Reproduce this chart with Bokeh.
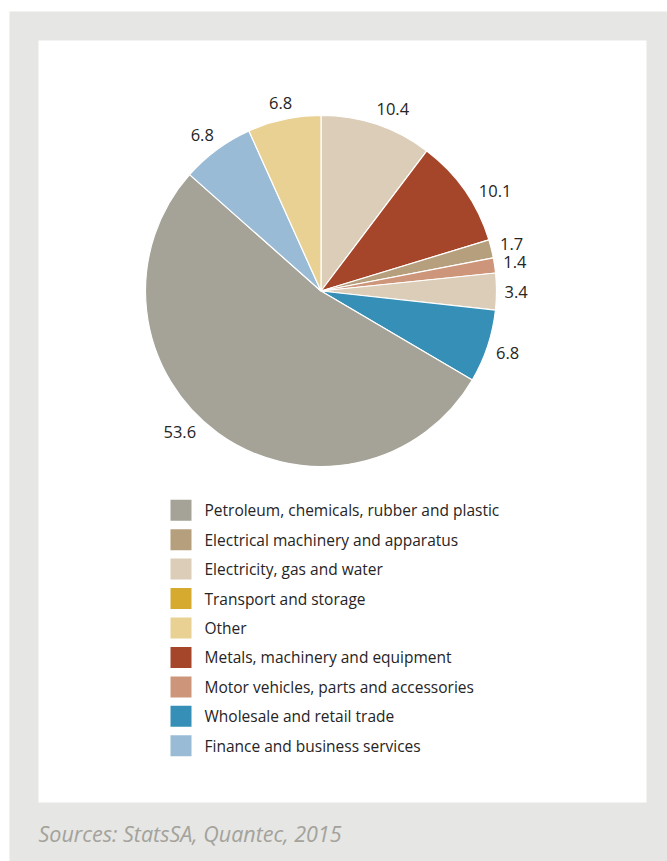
import math
from bokeh.plotting import figure
from bokeh.models import Range1d, BoxAnnotation, ColumnDataSource, Label
from bokeh.core.properties import value
from bokeh.embed import file_html
from bokeh.resources import INLINE

# ---------------- data ----------------
categories = [
    "Petroleum, chemicals, rubber and plastic",
    "Electrical machinery and apparatus",
    "Electricity, gas and water",
    "Transport and storage",
    "Other",
    "Metals, machinery and equipment",
    "Motor vehicles, parts and accessories",
    "Wholesale and retail trade",
    "Finance and business services",
]
category_colors = [
    "#A5A397",
    "#B59F7D",
    "#DBCDB7",
    "#D6A92F",
    "#E8D193",
    "#A5462A",
    "#CD957A",
    "#368FB6",
    "#9ABBD6",
]

# slices, clockwise from 12 o'clock, as drawn
slice_categories = [
    "Electricity, gas and water",
    "Metals, machinery and equipment",
    "Electrical machinery and apparatus",
    "Motor vehicles, parts and accessories",
    "Electricity, gas and water",
    "Wholesale and retail trade",
    "Petroleum, chemicals, rubber and plastic",
    "Finance and business services",
    "Other",
]
slice_values = [10.4, 10.1, 1.7, 1.4, 3.4, 6.8, 53.6, 6.8, 6.8]
slice_labels = ["10.4", "10.1", "1.7", "1.4", "3.4", "6.8", "53.6", "6.8", "6.8"]

source_text = "Sources: StatsSA, Quantec, 2015"

# ---------------- layout / style (screen px) ----------------
W, H = 667, 861
def Y(sy):
    return H - sy

CX, CY, R = 320.5, Y(290.5), 175.5
FONT = "Open Sans"
TEXT_COLOR = "#262424"
# small clockwise shifts (degrees) of some value labels, as placed in the original
label_shift_deg = [3, 5, 0, 0, 0, 0, 9, -1, 0]

p = figure(width=W, height=H, x_range=Range1d(0, W), y_range=Range1d(0, H),
           output_backend="svg", toolbar_location=None, min_border=0,
           background_fill_color="white", border_fill_color="white",
           outline_line_color=None)
p.axis.visible = False
p.grid.visible = False

# outer gray frame and white panel
p.add_layout(BoxAnnotation(left=9, right=W, bottom=0, top=Y(11),
                           fill_color="#E6E6E4", fill_alpha=1, line_color=None, level="underlay"))
p.add_layout(BoxAnnotation(left=38, right=646, bottom=Y(802), top=Y(40),
                           fill_color="white", fill_alpha=1, line_color=None, level="underlay"))

# ---------------- pie ----------------
total = sum(slice_values)
color_of = dict(zip(categories, category_colors))
starts, ends, mids = [], [], []
cum = 0.0
for v in slice_values:
    a0 = math.pi / 2 - 2 * math.pi * cum / total
    cum += v
    a1 = math.pi / 2 - 2 * math.pi * cum / total
    starts.append(a0)
    ends.append(a1)
    mids.append((a0 + a1) / 2)

src = ColumnDataSource(dict(
    start=starts, end=ends,
    color=[color_of[c] for c in slice_categories],
    cat=slice_categories, val=slice_values,
))
p.wedge(x=CX, y=CY, radius=R, start_angle="start", end_angle="end",
        direction="clock", fill_color="color", line_color="white",
        line_width=1.2, source=src)

# value labels just outside the rim along each slice's middle
fs = 16.5
lx, ly = [], []
for lab, m, sh in zip(slice_labels, mids, label_shift_deg):
    m = m - math.radians(sh)
    cx, cy = math.cos(m), math.sin(m)
    w = sum(0.572 * fs if ch.isdigit() else 0.27 * fs for ch in lab)
    d = R + 8 + abs(cx) * w / 2 + abs(cy) * 6.5
    lx.append(CX + d * cx)
    ly.append(CY + d * cy)
p.text(x=lx, y=ly, text=slice_labels, text_font=value(FONT),
       text_font_size="16.5px", text_color=TEXT_COLOR,
       text_align="center", text_baseline="middle")

# ---------------- legend ----------------
LEG_TOP, LEG_STEP = 509.7, 29.45
leg_y = [Y(LEG_TOP + i * LEG_STEP) for i in range(len(categories))]
p.rect(x=[180.5] * len(categories), y=leg_y, width=21, height=21,
       fill_color=category_colors, line_color=None)
p.text(x=[204] * len(categories), y=leg_y, text=categories,
       text_font=value(FONT), text_font_size="15.5px", text_color=TEXT_COLOR,
       text_align="left", text_baseline="middle")

# ---------------- source note ----------------
p.add_layout(Label(x=38, y=Y(833), text=source_text, text_font=FONT,
                   text_font_size="21.5px", text_font_style="italic",
                   text_color="#A3A29B", text_baseline="middle"))

open("out.html", "w").write(file_html(p, INLINE))
